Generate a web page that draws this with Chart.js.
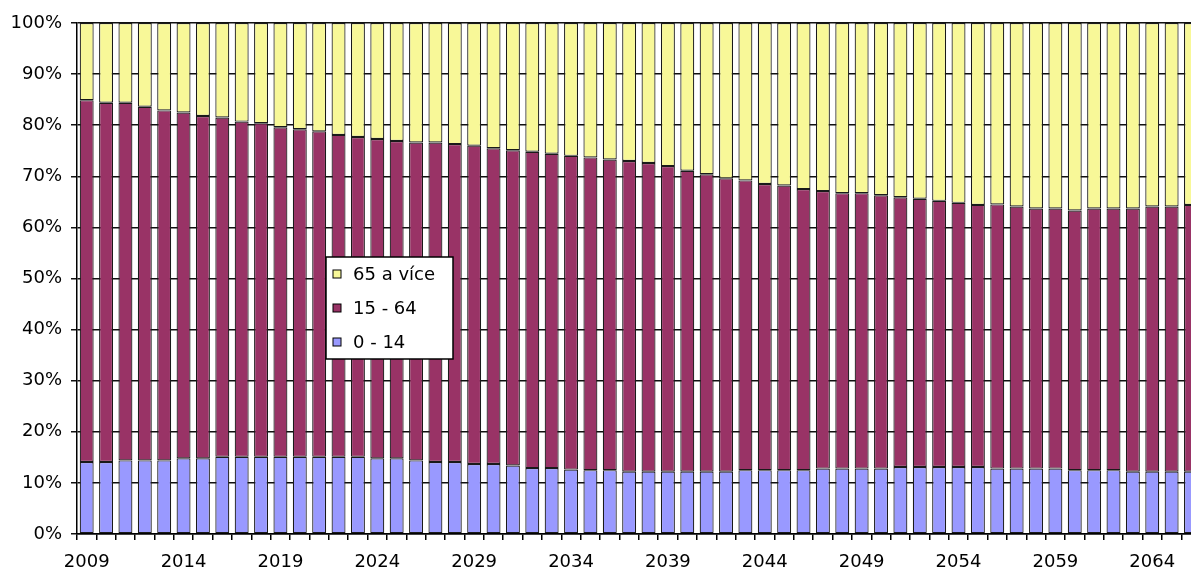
<!DOCTYPE html>
<html>
<head>
<meta charset="utf-8">
<script src="https://cdn.jsdelivr.net/npm/chart.js@4.4.1/dist/chart.umd.min.js"></script>
<style>
  html, body { margin: 0; padding: 0; background: #fff; overflow: hidden; }
  canvas { display: block; }
</style>
</head>
<body>
<canvas id="chart" width="1203" height="571"></canvas>
<script>
// years of the projection (the last one runs off the right edge)
const years = [
  2009, 2010, 2011, 2012, 2013, 2014, 2015, 2016, 2017, 2018,
  2019, 2020, 2021, 2022, 2023, 2024, 2025, 2026, 2027, 2028,
  2029, 2030, 2031, 2032, 2033, 2034, 2035, 2036, 2037, 2038,
  2039, 2040, 2041, 2042, 2043, 2044, 2045, 2046, 2047, 2048,
  2049, 2050, 2051, 2052, 2053, 2054, 2055, 2056, 2057, 2058,
  2059, 2060, 2061, 2062, 2063, 2064, 2065, 2066
];

// share of each age group, %
const age0to14 = [
  14.1, 14.1, 14.4, 14.4, 14.4, 14.8, 14.8, 15.1, 15.1, 15.1,
  15.1, 15.1, 15.1, 15.1, 15.1, 14.8, 14.8, 14.4, 14.1, 14.1,
  13.7, 13.7, 13.4, 12.9, 12.9, 12.6, 12.5, 12.5, 12.2, 12.2,
  12.2, 12.2, 12.2, 12.2, 12.5, 12.5, 12.5, 12.5, 12.8, 12.8,
  12.8, 12.8, 13.1, 13.1, 13.1, 13.1, 13.1, 12.8, 12.8, 12.8,
  12.8, 12.5, 12.5, 12.5, 12.2, 12.2, 12.2, 12.2
];
const age15to64 = [
  70.8, 70.3, 70.0, 69.2, 68.5, 67.7, 67.0, 66.4, 65.6, 65.3,
  64.5, 64.1, 63.7, 63.0, 62.6, 62.5, 62.1, 62.2, 62.5, 62.2,
  62.3, 61.8, 61.7, 61.9, 61.5, 61.4, 61.2, 60.8, 60.8, 60.4,
  59.8, 58.9, 58.2, 57.4, 56.7, 56.0, 55.7, 55.0, 54.3, 53.9,
  53.9, 53.5, 52.8, 52.5, 52.1, 51.7, 51.3, 51.7, 51.3, 50.9,
  50.9, 50.8, 51.2, 51.2, 51.5, 51.9, 51.9, 52.2
];
const age65plus = [
  15.1, 15.6, 15.6, 16.4, 17.1, 17.5, 18.2, 18.5, 19.3, 19.6,
  20.4, 20.8, 21.2, 21.9, 22.3, 22.7, 23.1, 23.4, 23.4, 23.7,
  24.0, 24.5, 24.9, 25.2, 25.6, 26.0, 26.3, 26.7, 27.0, 27.4,
  28.0, 28.9, 29.6, 30.4, 30.8, 31.5, 31.8, 32.5, 32.9, 33.3,
  33.3, 33.7, 34.1, 34.4, 34.8, 35.2, 35.6, 35.5, 35.9, 36.3,
  36.3, 36.7, 36.3, 36.3, 36.3, 35.9, 35.9, 35.6
];

const groupNames = ['0 - 14', '15 - 64', '65 a více'];
const groupColors = ['#9999FF', '#993366', '#F8F898'];

const textFont = { family: '"DejaVu Sans", Verdana, sans-serif', size: 18 };

// boxed legend sitting inside the plot, top group listed first
const boxLegend = {
  id: 'boxLegend',
  afterDraw(chart) {
    const ctx = chart.ctx;
    const x = 326, y = 257, w = 127, h = 102;
    ctx.save();
    ctx.fillStyle = '#fff';
    ctx.fillRect(x, y, w, h);
    ctx.strokeStyle = '#000';
    ctx.lineWidth = 1.5;
    ctx.strokeRect(x, y, w, h);
    ctx.font = `${textFont.size}px ${textFont.family}`;
    ctx.textBaseline = 'middle';
    const ds = chart.data.datasets.slice().reverse();
    ds.forEach((d, i) => {
      const cy = y + 17 + i * 34;
      ctx.fillStyle = d.backgroundColor;
      ctx.fillRect(x + 7, cy - 4, 8, 8);
      ctx.lineWidth = 1;
      ctx.strokeRect(x + 7, cy - 4, 8, 8);
      ctx.fillStyle = '#000';
      ctx.fillText(d.label, x + 27, cy + 1);
    });
    ctx.restore();
  }
};

const series = [age0to14, age15to64, age65plus];

new Chart(document.getElementById('chart'), {
  type: 'bar',
  data: {
    labels: years,
    datasets: series.map((vals, i) => ({
      label: groupNames[i],
      data: vals,
      backgroundColor: groupColors[i],
      borderColor: '#1a1a1a',
      borderWidth: 1.2,
      borderSkipped: false,
      barPercentage: 0.72,
      categoryPercentage: 1.0
    }))
  },
  options: {
    responsive: false,
    animation: false,
    devicePixelRatio: 1,
    layout: { padding: { top: 23, right: 0, left: 0, bottom: 0 } },
    plugins: {
      legend: { display: false },
      tooltip: { enabled: false }
    },
    scales: {
      x: {
        stacked: true,
        offset: true,
        grid: {
          offset: true,
          drawOnChartArea: false,
          color: '#000',
          tickLength: 6,
          lineWidth: 1.5
        },
        border: { color: '#000', width: 1.5 },
        ticks: {
          autoSkip: false,
          maxRotation: 0,
          padding: 12,
          color: '#000',
          font: textFont,
          callback: (v, i) => (i % 5 === 0 ? String(years[i]) : '')
        },
        afterFit(scale) { scale.height = 37; }
      },
      y: {
        stacked: true,
        min: 0,
        max: 100,
        grid: {
          color: '#111',
          lineWidth: 1.5,
          tickLength: 6
        },
        border: { color: '#000', width: 1.5 },
        ticks: {
          stepSize: 10,
          padding: 9,
          color: '#000',
          font: textFont,
          callback: v => v + '%'
        },
        afterFit(scale) { scale.width = 77; }
      }
    }
  },
  plugins: [boxLegend]
});
</script>
</body>
</html>
